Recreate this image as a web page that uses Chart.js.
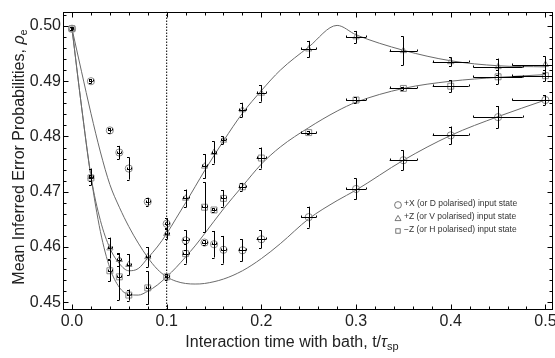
<!DOCTYPE html>
<html lang="en">
<head>
<meta charset="UTF-8">
<title>Mean inferred error probabilities vs interaction time</title>
<script src="https://cdn.jsdelivr.net/npm/chart.js@4"></script>
<style>
  html, body { margin: 0; padding: 0; background: #fff; }
  #wrap { position: relative; width: 555px; height: 358px; }
</style>
</head>
<body>
<div id="wrap"><canvas id="c" width="555" height="358"></canvas></div>
<script>
// measured points (t / tau_sp)
const times = [0, 0.02, 0.04, 0.05, 0.06, 0.08, 0.10, 0.12, 0.14, 0.15, 0.16, 0.18, 0.20, 0.25, 0.30, 0.35, 0.40, 0.45, 0.50]
const timeErr = [0.001, 0.002, 0.002, 0.002, 0.002, 0.002, 0.002, 0.0032, 0.0025, 0.0025, 0.0025, 0.004, 0.005, 0.008, 0.0105, 0.0145, 0.019, 0.026, 0.035]

// +X (or D polarised)
const probX = [0.4995, 0.4900, 0.4811, 0.4771, 0.4742, 0.4682, 0.4642, 0.4612, 0.4608, 0.4605, 0.4595, 0.4594, 0.4614, 0.4654, 0.4705, 0.4757, 0.4802, 0.4835, 0.4866]
const errX = [0.0003, 0.0004, 0.0004, 0.0012, 0.002, 0.0007, 0.001, 0.0018, 0.0004, 0.0024, 0.0025, 0.002, 0.0016, 0.0019, 0.0019, 0.0018, 0.0016, 0.002, 0.0009]
// +Z (or V polarised)
const probZ = [0.4995, 0.4727, 0.4598, 0.4577, 0.4568, 0.4582, 0.4624, 0.4688, 0.4746, 0.4771, 0.4793, 0.4848, 0.4878, 0.4958, 0.4980, 0.4955, 0.4935, 0.4926, 0.4930]
const errZ = [0.0003, 0.0015, 0.0019, 0.0012, 0.0019, 0.0018, 0.001, 0.0016, 0.0022, 0.002, 0.0007, 0.0013, 0.0015, 0.0015, 0.0011, 0.0026, 0.0008, 0.0015, 0.0015]
// -Z (or H polarised)
const probH = [0.4995, 0.4725, 0.4557, 0.4546, 0.4513, 0.4526, 0.4546, 0.4588, 0.4672, 0.4667, 0.4688, 0.4709, 0.4761, 0.4807, 0.4866, 0.4887, 0.4891, 0.4908, 0.4910]
const errH = [0.0003, 0.0005, 0.0019, 0.0042, 0.001, 0.003, 0.0005, 0.0018, 0.0045, 0.0003, 0.0015, 0.0007, 0.0019, 0.0003, 0.0005, 0.0003, 0.0011, 0.0013, 0.001]

// fitted model curves
const fitT = [0, 0.01, 0.02, 0.03, 0.04, 0.05, 0.06, 0.07, 0.08, 0.09, 0.10, 0.11, 0.12, 0.13, 0.14, 0.16, 0.18, 0.20, 0.22, 0.25, 0.28, 0.30, 0.35, 0.40, 0.45, 0.50]
const fitX = [0.4995, 0.4918, 0.4842, 0.4772, 0.4713, 0.4672, 0.4637, 0.4607, 0.4581, 0.4560, 0.4546, 0.4538, 0.4534, 0.4533, 0.4534, 0.4542, 0.4557, 0.4579, 0.4606, 0.4651, 0.4684, 0.4703, 0.4757, 0.4802, 0.4836, 0.4866]
const fitZ = [0.4995, 0.4855, 0.4728, 0.4648, 0.4598, 0.4570, 0.4557, 0.4561, 0.4580, 0.4600, 0.4624, 0.4652, 0.4680, 0.4709, 0.4738, 0.4792, 0.4842, 0.4883, 0.4920, 0.4962, 0.5001, 0.4984, 0.4956, 0.4937, 0.4928, 0.4926]
const fitH = [0.4995, 0.4855, 0.4728, 0.4628, 0.4562, 0.4527, 0.4514, 0.4513, 0.4520, 0.4531, 0.4546, 0.4563, 0.4582, 0.4602, 0.4624, 0.4669, 0.4710, 0.4750, 0.4781, 0.4816, 0.4846, 0.4862, 0.4887, 0.4900, 0.4907, 0.4912]

const xTicks = [0, 0.1, 0.2, 0.3, 0.4, 0.5]
const yTicks = [0.45, 0.46, 0.47, 0.48, 0.49, 0.50]
const markerLine = 0.1
const legendLabels = ['+X (or D polarised) input state', '+Z (or V polarised) input state', '\u2212Z (or H polarised) input state']

const X_MIN = -0.0095, X_MAX = 0.508, Y_MIN = 0.4486, Y_MAX = 0.5026
const FONT = "'Liberation Sans', Arial, sans-serif"
const MARK = '#8a8a8a'
const CURVE = '#6a6a6a'

const pts = (xs, ys) => xs.map((x, i) => ({ x, y: ys[i] }))
const curve = ys => ({ data: pts(fitT, ys), showLine: true, borderColor: CURVE, borderWidth: 1, pointRadius: 0, cubicInterpolationMode: 'monotone', order: 3 })
const marks = (ys, style, r) => ({ data: pts(times, ys), showLine: false, pointStyle: style, pointRadius: r, borderColor: MARK, backgroundColor: 'rgba(0,0,0,0)', pointBorderWidth: 1, order: 1 })

const series = [
  { ys: probX, err: errX, style: 'circle', r: 3.6 },
  { ys: probZ, err: errZ, style: 'triangle', r: 3.6 },
  { ys: probH, err: errH, style: 'rect', r: 4.2 }
]

const framePlugin = {
  id: 'frame',
  afterDatasetsDraw(chart) {
    const { ctx, chartArea: a, scales: { x, y } } = chart
    ctx.save()
    // error bars
    ctx.strokeStyle = '#000'
    ctx.lineWidth = 1
    series.forEach(s => {
      times.forEach((t, i) => {
        const px = Math.round(x.getPixelForValue(t)) + 0.5
        const py = y.getPixelForValue(s.ys[i])
        const y1 = y.getPixelForValue(s.ys[i] + s.err[i])
        const y2 = y.getPixelForValue(s.ys[i] - s.err[i])
        const x1 = x.getPixelForValue(t - timeErr[i])
        const x2 = Math.min(x.getPixelForValue(t + timeErr[i]), a.right)
        ctx.beginPath()
        ctx.moveTo(px, y1); ctx.lineTo(px, y2)
        ctx.moveTo(px - 2.5, Math.round(y1) + 0.5); ctx.lineTo(px, Math.round(y1) + 0.5)
        ctx.moveTo(px - 2.5, Math.round(y2) + 0.5); ctx.lineTo(px, Math.round(y2) + 0.5)
        const hy = Math.round(py) + 0.5
        ctx.moveTo(x1, hy); ctx.lineTo(x2, hy)
        ctx.moveTo(Math.round(x1) + 0.5, hy - 2); ctx.lineTo(Math.round(x1) + 0.5, hy)
        if (x2 < a.right) { ctx.moveTo(Math.round(x2) + 0.5, hy - 2); ctx.lineTo(Math.round(x2) + 0.5, hy) }
        ctx.stroke()
      })
    })
    ctx.restore()
  },
  afterDraw(chart) {
    const { ctx, chartArea: a, scales: { x, y } } = chart
    ctx.save()
    ctx.strokeStyle = '#000'
    ctx.lineWidth = 1
    const L = Math.round(a.left) + 0.5, R = Math.round(a.right) - 0.5
    const T = Math.round(a.top) + 0.5, B = Math.round(a.bottom) - 0.5
    ctx.strokeRect(L, T, R - L, B - T)
    // inward ticks on all four sides
    ctx.beginPath()
    for (let k = 0; k <= 25; k++) {
      const v = k * 0.02
      const major = k % 5 === 0
      const len = major ? 5 : 3
      const px = Math.round(x.getPixelForValue(v)) + 0.5
      ctx.moveTo(px, B); ctx.lineTo(px, B - len)
      ctx.moveTo(px, T); ctx.lineTo(px, T + len)
    }
    for (let k = 0; k <= 26; k++) {
      const v = 0.45 + k * 0.002
      if (v > Y_MAX) break
      const major = k % 5 === 0
      const len = major ? 5 : 3
      const py = Math.round(y.getPixelForValue(v)) + 0.5
      ctx.moveTo(L, py); ctx.lineTo(L + len, py)
      ctx.moveTo(R, py); ctx.lineTo(R - len, py)
    }
    ctx.stroke()

    // x tick labels, placed by the x scale
    ctx.fillStyle = '#222'
    ctx.font = '16px ' + FONT
    ctx.textAlign = 'center'
    ctx.textBaseline = 'middle'
    xTicks.forEach(v => ctx.fillText(v.toFixed(1), x.getPixelForValue(v), a.bottom + 12))
    ctx.textAlign = 'left'

    // axis titles with subscripts
    const runs = (parts) => {
      let w = 0
      parts.forEach(p => { ctx.font = p.font; w += ctx.measureText(p.text).width })
      return w
    }
    const drawRuns = (parts, cx, cy) => {
      const w = runs(parts)
      let xx = cx - w / 2
      parts.forEach(p => {
        ctx.font = p.font
        ctx.fillText(p.text, xx, cy + (p.dy || 0))
        xx += ctx.measureText(p.text).width
      })
    }
    drawRuns([
      { text: 'Interaction time with bath, t/', font: '16px ' + FONT },
      { text: '\u03c4', font: 'italic 16px ' + FONT },
      { text: 'sp', font: '11px ' + FONT, dy: 4 }
    ], 292, 343)
    ctx.save()
    ctx.translate(20, 157)
    ctx.rotate(-Math.PI / 2)
    drawRuns([
      { text: 'Mean Inferred Error Probabilities, ', font: '16px ' + FONT },
      { text: '\u03c1', font: 'italic 16px ' + FONT },
      { text: 'e', font: '11px ' + FONT, dy: 4 }
    ], 0, 0)
    ctx.restore()

    // legend
    ctx.font = '8.5px ' + FONT
    ctx.fillStyle = '#333'
    ctx.textBaseline = 'middle'
    const lx = 398, ly = [205, 218, 231]
    ctx.strokeStyle = '#555'
    ctx.lineWidth = 0.8
    ctx.beginPath(); ctx.arc(lx, ly[0], 3.4, 0, Math.PI * 2); ctx.stroke()
    ctx.beginPath(); ctx.moveTo(lx, ly[1] - 2.6); ctx.lineTo(lx + 3, ly[1] + 2.6); ctx.lineTo(lx - 3, ly[1] + 2.6); ctx.closePath(); ctx.stroke()
    ctx.strokeRect(lx - 2.2, ly[2] - 2.2, 4.4, 4.4)
    legendLabels.forEach((s, i) => ctx.fillText(s, lx + 6, ly[i] - 1))
    ctx.restore()
  }
}

new Chart(document.getElementById('c'), {
  type: 'scatter',
  data: {
    datasets: [
      curve(fitX), curve(fitZ), curve(fitH),
      { data: [{ x: markerLine, y: Y_MIN }, { x: markerLine, y: Y_MAX }], showLine: true, borderColor: '#000', borderWidth: 1, borderDash: [1.5, 1.5], pointRadius: 0, order: 2 },
      ...series.map(s => marks(s.ys, s.style, s.r))
    ]
  },
  options: {
    responsive: false,
    animation: false,
    devicePixelRatio: 1,
    layout: { autoPadding: false, padding: { top: 6, right: 2, left: 0, bottom: 0 } },
    plugins: { legend: { display: false }, tooltip: { enabled: false } },
    scales: {
      x: {
        type: 'linear', min: X_MIN, max: X_MAX,
        grid: { display: false, drawTicks: false },
        border: { display: false },
        afterBuildTicks: s => { s.ticks = xTicks.map(v => ({ value: v })) },
        afterFit: s => { s.height = 48 },
        ticks: { display: false }
      },
      y: {
        type: 'linear', min: Y_MIN, max: Y_MAX,
        grid: { display: false, drawTicks: false },
        border: { display: false },
        afterBuildTicks: s => { s.ticks = yTicks.map(v => ({ value: v })) },
        afterFit: s => { s.width = 63 },
        ticks: { color: '#222', font: { family: FONT, size: 16 }, padding: 2, callback: v => v.toFixed(2) }
      }
    }
  },
  plugins: [framePlugin]
})
</script>
</body>
</html>
